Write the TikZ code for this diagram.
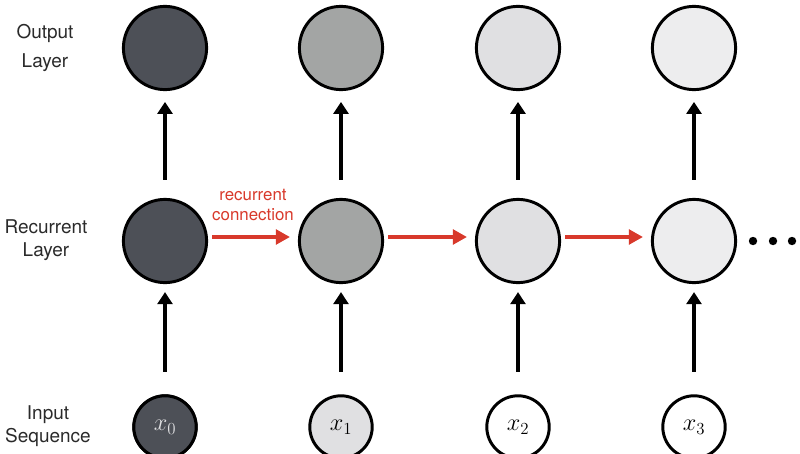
\documentclass[tikz,border=0pt]{standalone}
\usepackage{fontspec}
\setmainfont{TeX Gyre Heros}
\usetikzlibrary{arrows.meta}

\definecolor{dk}{HTML}{4D5057}
\definecolor{md}{HTML}{A3A5A4}
\definecolor{lt}{HTML}{E0E0E2}
\definecolor{vl}{HTML}{EDEDEE}
\definecolor{rc}{HTML}{D8392B}
\definecolor{tx}{HTML}{2A2A2A}

\tikzstyle{unit}=[circle,draw=black,line width=2.1pt,minimum size=2.08cm,inner sep=0pt]
\tikzstyle{inp}=[unit,minimum size=1.56cm,font=\fontsize{17}{17}\selectfont]
\tikzstyle{up}=[-{Triangle[width=10.5pt,length=8.5pt]},line width=2.3pt]
\tikzstyle{rec}=[-{Triangle[width=10.5pt,length=10pt]},line width=2.3pt,draw=rc]
\tikzstyle{lbl}=[align=center,text=tx,font=\fontsize{13.5}{20}\selectfont]

\begin{document}
\begin{tikzpicture}[x=0.025cm,y=-0.025cm]
	\useasboundingbox (0,0) rectangle (800,453);
	% layers
	\foreach \i/\xx/\co/\ch/\ci in {0/165/dk/dk/dk,1/341/md/md/lt,2/518/lt/lt/white,3/694/vl/vl/white} {
		\node[unit,fill=\co] (o\i) at (\xx,48) {};
		\node[unit,fill=\ch] (h\i) at (\xx,241) {};
		\node[inp,fill=\ci] (x\i) at (\xx,427) {$x_{\i}$};
		\draw[up,shorten <=0.45cm,shorten >=0.27cm] (h\i) -- (o\i);
		\draw[up,shorten <=0.57cm,shorten >=0.2cm] (x\i) -- (h\i);
	}
	\node[inp,fill=dk,text=lt] at (x0) {$x_0$};
	% recurrent connections
	\foreach \i/\j in {0/1,1/2,2/3}
		\draw[rec,shorten <=0.1cm,shorten >=0.2cm] ([yshift=0.1cm]h\i.east) -- ([yshift=0.1cm]h\j.west);
	\node[align=center,text=rc,font=\fontsize{12}{14}\selectfont] (rlbl) at (253,205) {recurrent\\connection};
	\foreach \d in {753,773,792}
		\fill (\d,241) circle (4.2);
	% labels
	\node[lbl] (lout) at (45,48) {Output\\Layer};
	\node[lbl,font=\fontsize{13.5}{16.5}\selectfont] (lrec) at (46,240) {Recurrent\\Layer};
	\node[lbl,font=\fontsize{13.5}{16.5}\selectfont] (linp) at (48,426) {Input\\Sequence};
\end{tikzpicture}
\end{document}
